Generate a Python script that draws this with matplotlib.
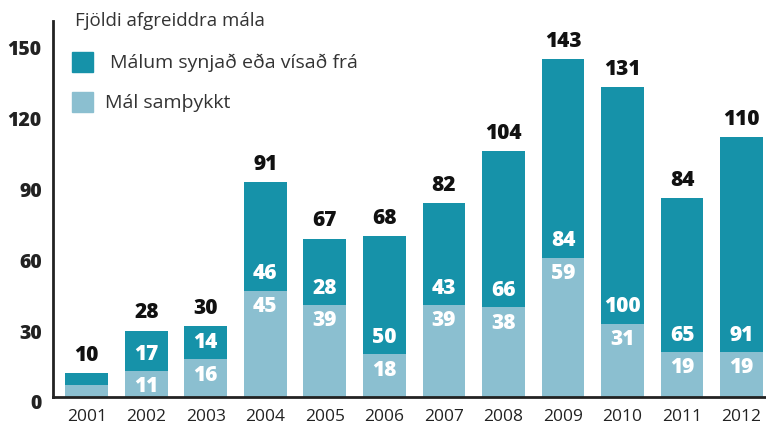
import matplotlib.pyplot as plt
import matplotlib.transforms as mtransforms
import numpy as np

plt.rcParams['font.family'] = ['Open Sans', 'DejaVu Sans']

ar = ['2001', '2002', '2003', '2004', '2005', '2006', '2007', '2008', '2009', '2010', '2011', '2012']
samthykkt = [5, 11, 16, 45, 39, 18, 39, 38, 59, 31, 19, 19]
synjad = [5, 17, 14, 46, 28, 50, 43, 66, 84, 100, 65, 91]
samtals = [10, 28, 30, 91, 67, 68, 82, 104, 143, 131, 84, 110]

dokkur = '#1692a9'
ljos = '#8bbfd0'

fig = plt.figure(figsize=(7.66, 4.27), dpi=100)
ax = fig.add_axes([0.069, 0.068, 0.931, 0.88])

x = np.arange(len(ar))
ax.bar(x, samthykkt, width=0.72, color=ljos)
ax.bar(x, synjad, width=0.72, bottom=samthykkt, color=dokkur)

for i in range(len(ar)):
    ax.text(x[i], samtals[i] + 8, str(samtals[i]), ha='center', va='center',
            fontsize=15, fontweight='heavy', color='#111111')
    if i > 0:  # 2001 er of lítið fyrir tölur
        ax.text(x[i], samthykkt[i] + 7.5, str(synjad[i]), ha='center', va='center',
                fontsize=15, fontweight='heavy', color='white')
        ax.text(x[i], samthykkt[i] - 6.3, str(samthykkt[i]), ha='center', va='center',
                fontsize=15, fontweight='heavy', color='white')

ax.set_xlim(-0.57, 11.41)
ax.set_ylim(0, 159)
ax.set_xticks(x)
ax.set_xticklabels(ar, fontsize=12.5, color='#222222')
ax.set_yticks([0, 30, 60, 90, 120, 150])
ax.set_yticklabels(['0', '30', '60', '90', '120', '150'], fontsize=14, fontweight='heavy', color='#222222')
ax.tick_params(axis='both', length=0, pad=8)
ax.tick_params(axis='y', pad=8)
# y-tölurnar sitja aðeins neðar en línan í frumriti
nidur = mtransforms.ScaledTranslation(0, -4 / 100, fig.dpi_scale_trans)
for lbl in ax.get_yticklabels():
    lbl.set_transform(lbl.get_transform() + nidur)
for s in ['top', 'right']:
    ax.spines[s].set_visible(False)
for s in ['left', 'bottom']:
    ax.spines[s].set_linewidth(2)
    ax.spines[s].set_color('#222222')

# titill og skýringar
fig.text(0.098, 0.950, 'Fjöldi afgreiddra mála', fontsize=13.5, color='#333333', va='center')
fig.patches.append(plt.Rectangle((0.094, 0.83), 0.027, 0.047, transform=fig.transFigure, color=dokkur))
fig.patches.append(plt.Rectangle((0.094, 0.735), 0.027, 0.047, transform=fig.transFigure, color=ljos))
fig.text(0.143, 0.853, 'Málum synjað eða vísað frá', fontsize=14, color='#333333', va='center')
fig.text(0.137, 0.758, 'Mál samþykkt', fontsize=14, color='#333333', va='center')

fig.savefig('out.png', dpi=100)
